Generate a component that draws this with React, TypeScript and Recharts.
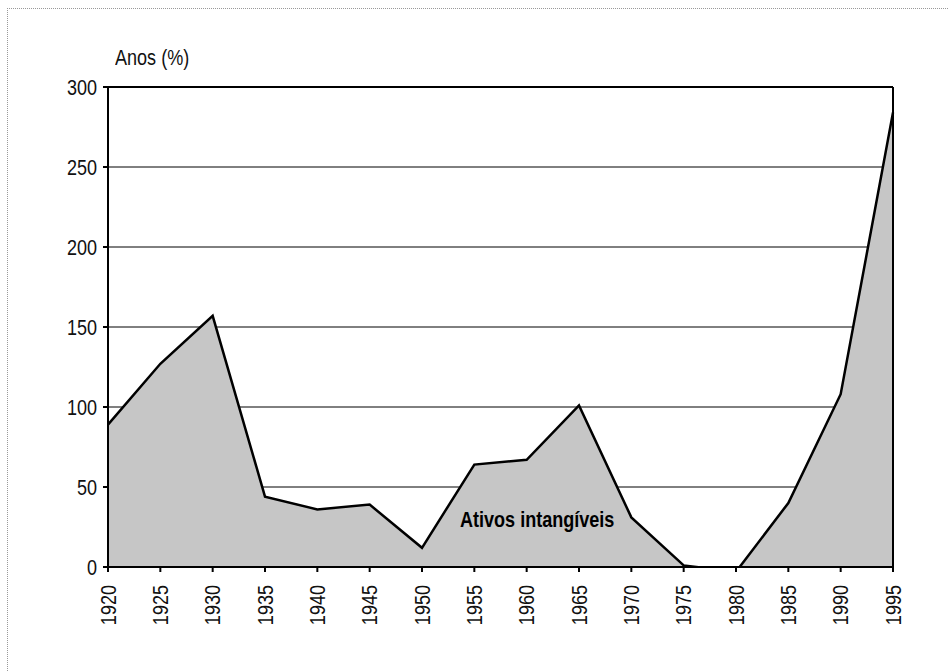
import React from "react";
import {
  AreaChart,
  Area,
  XAxis,
  YAxis,
  CartesianGrid,
  ReferenceLine,
} from "recharts";

const anos = [1920, 1925, 1930, 1935, 1940, 1945, 1950, 1955, 1960, 1965, 1970, 1975, 1980, 1985, 1990, 1995];
const valores = [89, 127, 157, 44, 36, 39, 12, 64, 67, 101, 31, 1, -3, 40, 108, 284];
const yTicks = [0, 50, 100, 150, 200, 250, 300];

const data = anos.map((ano, i) => ({ ano, valor: valores[i] }));

// no narrow font installed: squeeze Liberation Sans instead
const FONT = "'Liberation Sans', Arial, sans-serif";
const NARROW = 0.82;

function YearTick(props: any) {
  const { x, y, payload } = props;
  return (
    <g transform={`translate(${x},${y + 11}) rotate(-90) scale(${NARROW},1)`}>
      <text x={0} y={0} textAnchor="end" dominantBaseline="central" fontSize={22} fontFamily={FONT} fill="#111">
        {payload.value}
      </text>
    </g>
  );
}

function ValueTick(props: any) {
  const { x, y, payload } = props;
  return (
    <g transform={`translate(${x},${y}) scale(${NARROW},1)`}>
      <text x={0} y={0} textAnchor="end" dominantBaseline="central" fontSize={22} fontFamily={FONT} fill="#111">
        {payload.value}
      </text>
    </g>
  );
}

export default function App() {
  return (
    <div
      style={{
        position: "absolute",
        left: 0,
        top: 0,
        width: 948,
        height: 672,
        background: "#fff",
        overflow: "hidden",
      }}
    >
      <div
        style={{
          position: "absolute",
          left: 7,
          top: 8,
          width: 960,
          height: 700,
          borderTop: "1px dotted #999",
          borderLeft: "1px dotted #999",
        }}
      />
      <div
        style={{
          position: "absolute",
          left: 115,
          top: 44,
          fontFamily: FONT,
          fontSize: 22,
          color: "#111",
          lineHeight: "28px",
          whiteSpace: "nowrap",
          transform: `scaleX(${NARROW})`,
          transformOrigin: "left center",
        }}
      >
        Anos (%)
      </div>
      <AreaChart
        width={948}
        height={672}
        data={data}
        margin={{ top: 87, right: 55, bottom: 45, left: 48 }}
        style={{ position: "absolute", left: 0, top: 0 }}
      >
        <CartesianGrid horizontal={true} vertical={false} stroke="#000" strokeWidth={1} />
        <XAxis
          dataKey="ano"
          type="number"
          domain={[1920, 1995]}
          ticks={anos}
          interval={0}
          height={60}
          stroke="#000"
          strokeWidth={2}
          tickSize={5}
          tick={<YearTick />}
        />
        <YAxis
          domain={[0, 300]}
          ticks={yTicks}
          allowDataOverflow
          width={60}
          stroke="#000"
          strokeWidth={2}
          tickSize={5}
          tickMargin={6}
          tick={<ValueTick />}
        />
        <ReferenceLine x={1995} stroke="#000" strokeWidth={2} />
        <ReferenceLine y={300} stroke="#000" strokeWidth={2} />
        <Area
          type="linear"
          dataKey="valor"
          stroke="#000"
          strokeWidth={2.5}
          fill="#c6c6c6"
          fillOpacity={1}
          isAnimationActive={false}
          dot={false}
          activeDot={false}
        />
      </AreaChart>
      <div
        style={{
          position: "absolute",
          left: 460,
          top: 506,
          fontFamily: FONT,
          fontSize: 22,
          fontWeight: "bold",
          color: "#000",
          lineHeight: "28px",
          whiteSpace: "nowrap",
          transform: `scaleX(${NARROW})`,
          transformOrigin: "left center",
        }}
      >
        Ativos intangíveis
      </div>
    </div>
  );
}
